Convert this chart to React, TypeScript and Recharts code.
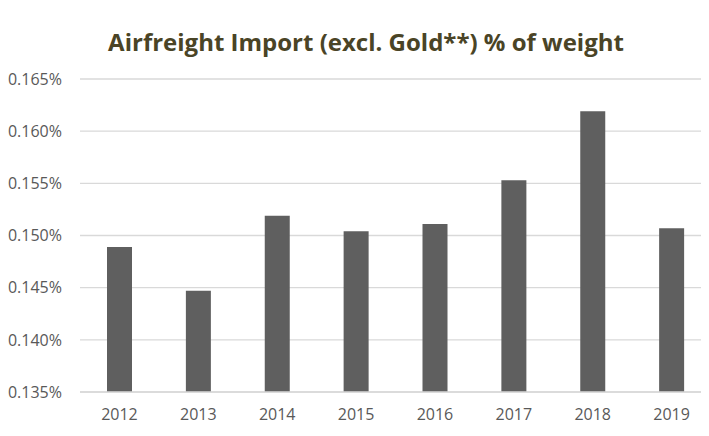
import React from "react"
import { BarChart, Bar, XAxis, YAxis, CartesianGrid } from "recharts"

// values are in percent of weight
const years = ["2012", "2013", "2014", "2015", "2016", "2017", "2018", "2019"]
const importShare = [0.1489, 0.1447, 0.1519, 0.1504, 0.1511, 0.1553, 0.1619, 0.1507]
const yTicks = [0.135, 0.14, 0.145, 0.15, 0.155, 0.16, 0.165]

const data = years.map((year, i) => ({ year, value: importShare[i] }))

const font = "'Open Sans', 'Noto Sans', sans-serif"
const tickStyle = { fill: "#595959", fontSize: 16, fontFamily: font }

export default function App() {
  return (
    <div
      style={{
        position: "relative",
        width: 709,
        height: 436,
        margin: -8,
        overflow: "hidden",
        background: "#fff",
        fontFamily: font,
      }}
    >
      {/* chart frame, cut off on the right and bottom */}
      <div
        style={{
          position: "absolute",
          left: 5,
          top: 7,
          width: 760,
          height: 480,
          border: "1px solid #d9d9d9",
        }}
      />
      <div
        style={{
          position: "absolute",
          left: 0,
          top: 26,
          width: 732,
          textAlign: "center",
          fontSize: 24,
          fontWeight: 700,
          color: "#4a4426",
          lineHeight: "32px",
        }}
      >
        Airfreight Import (excl. Gold**) % of weight
      </div>
      <div style={{ position: "absolute", left: 0, top: 0 }}>
        <BarChart
          width={711}
          height={436}
          data={data}
          margin={{ top: 79, right: 0, bottom: 14, left: 0 }}
          barSize={25}
        >
          <CartesianGrid vertical={false} stroke="#d9d9d9" strokeWidth={1.3} />
          <XAxis
            dataKey="year"
            tickLine={false}
            axisLine={{ stroke: "#d9d9d9", strokeWidth: 1.3 }}
            tick={tickStyle}
            tickSize={6}
            tickMargin={11}
            height={30}
          />
          <YAxis
            type="number"
            domain={[0.135, 0.165]}
            ticks={yTicks}
            width={80}
            tickLine={false}
            axisLine={false}
            tick={tickStyle}
            tickSize={6}
            tickMargin={12}
            allowDataOverflow
            tickFormatter={(v: number) => `${v.toFixed(3)}%`}
          />
          <Bar dataKey="value" fill="#5f5f5f" isAnimationActive={false} />
        </BarChart>
      </div>
    </div>
  )
}
